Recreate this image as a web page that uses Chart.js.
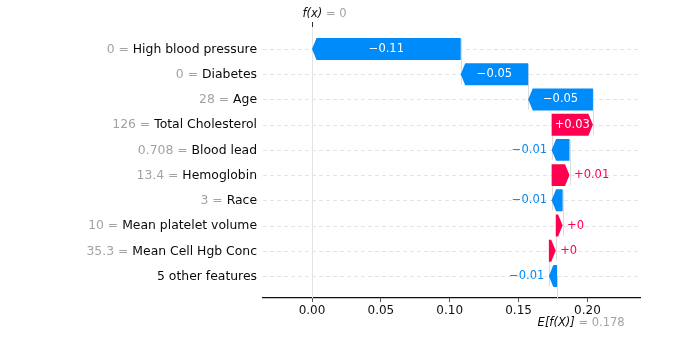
<!DOCTYPE html>
<html>
<head>
<meta charset="utf-8">
<script src="https://cdn.jsdelivr.net/npm/chart.js@4.4.0/dist/chart.umd.min.js"></script>
<style>
    html, body { margin: 0; padding: 0; background: #fff; }
    #wrap { width: 684px; height: 343px; }
</style>
</head>
<body>
<div id="wrap"><canvas id="grafico" width="684" height="343"></canvas></div>
<script>
// ======================================
// DADOS
// ======================================
const features = ['High blood pressure', 'Diabetes', 'Age', 'Total Cholesterol', 'Blood lead',
    'Hemoglobin', 'Race', 'Mean platelet volume', 'Mean Cell Hgb Conc', '5 other features'];
const featureValues = ['0', '0', '28', '126', '0.708', '13.4', '3', '10', '35.3', ''];
const shapValues = [-0.108, -0.049, -0.047, 0.030, -0.013, 0.013, -0.008, 0.005, 0.005, -0.006];
const barLabels = ['\u22120.11', '\u22120.05', '\u22120.05', '+0.03', '\u22120.01',
    '+0.01', '\u22120.01', '+0', '+0', '\u22120.01'];
const baseValue = 0.178;
const fxValue = 0;
const xTicks = [0, 0.05, 0.10, 0.15, 0.20];

const BLUE = '#008bfb';
const RED = '#ff0051';
const FONT = '"DejaVu Sans", sans-serif';

// acumulado de baixo para cima (estilo waterfall)
const n = features.length;
const starts = new Array(n);
const ends = new Array(n);
let acc = baseValue;
for (let i = n - 1; i >= 0; i--) {
    starts[i] = acc;
    acc += shapValues[i];
    ends[i] = acc;
}
const barData = features.map((f, i) => ({ x: [starts[i], ends[i]], y: i }));

// ======================================
// PLUGIN: setas, linhas e textos
// ======================================
const waterfallPlugin = {
    id: 'waterfall',
    beforeDatasetsDraw(chart) {
        const { ctx, chartArea, scales } = chart;
        const xs = scales.x, ys = scales.y;
        const rowH = Math.abs(ys.getPixelForValue(1) - ys.getPixelForValue(0));
        ctx.save();

        // linhas horizontais tracejadas
        ctx.strokeStyle = '#e4e4e4';
        ctx.lineWidth = 1;
        ctx.setLineDash([4, 3]);
        for (let i = 0; i < n; i++) {
            const y = Math.round(ys.getPixelForValue(i)) + 0.5;
            ctx.beginPath();
            ctx.moveTo(chartArea.left, y);
            ctx.lineTo(chartArea.right, y);
            ctx.stroke();
        }

        // linhas verticais (f(x), base e conectores)
        ctx.setLineDash([]);
        ctx.strokeStyle = '#e4e4e4';
        const xf = Math.round(xs.getPixelForValue(fxValue)) + 0.5;
        ctx.beginPath();
        ctx.moveTo(xf, chartArea.top);
        ctx.lineTo(xf, chartArea.bottom);
        ctx.stroke();

        ctx.strokeStyle = '#dcdcdc';
        const xb = Math.round(xs.getPixelForValue(baseValue)) + 0.5;
        ctx.beginPath();
        ctx.moveTo(xb, ys.getPixelForValue(n - 1));
        ctx.lineTo(xb, chartArea.bottom);
        ctx.stroke();

        for (let i = 0; i < n - 1; i++) {
            const x = Math.round(xs.getPixelForValue(starts[i])) + 0.5;
            ctx.beginPath();
            ctx.moveTo(x, ys.getPixelForValue(i) - 0.4 * rowH);
            ctx.lineTo(x, ys.getPixelForValue(i + 1) + 0.4 * rowH);
            ctx.stroke();
        }

        // tick do f(x) no topo
        ctx.strokeStyle = '#333';
        ctx.beginPath();
        ctx.moveTo(xf, chartArea.top - 5);
        ctx.lineTo(xf, chartArea.top);
        ctx.stroke();
        ctx.restore();
    },
    afterDatasetsDraw(chart) {
        const { ctx, chartArea, scales } = chart;
        const xs = scales.x;
        const meta = chart.getDatasetMeta(0);
        ctx.save();

        meta.data.forEach((bar, i) => {
            const p = bar.getProps(['x', 'y', 'base', 'height'], true);
            const left = Math.min(p.x, p.base);
            const right = Math.max(p.x, p.base);
            const top = p.y - p.height / 2;
            const bottom = p.y + p.height / 2;
            const hl = Math.min(4.5, right - left);
            const pos = shapValues[i] >= 0;
            const cor = pos ? RED : BLUE;

            ctx.fillStyle = cor;
            ctx.beginPath();
            if (pos) {
                ctx.moveTo(left, top);
                ctx.lineTo(right - hl, top);
                ctx.lineTo(right, p.y);
                ctx.lineTo(right - hl, bottom);
                ctx.lineTo(left, bottom);
            } else {
                ctx.moveTo(right, top);
                ctx.lineTo(left + hl, top);
                ctx.lineTo(left, p.y);
                ctx.lineTo(left + hl, bottom);
                ctx.lineTo(right, bottom);
            }
            ctx.closePath();
            ctx.fill();

            // rótulo do valor
            ctx.font = '11.5px ' + FONT;
            ctx.textBaseline = 'middle';
            const tw = ctx.measureText(barLabels[i]).width;
            if (tw + 6 < right - left) {
                ctx.fillStyle = '#fff';
                ctx.textAlign = 'center';
                ctx.fillText(barLabels[i], (left + right) / 2, p.y);
            } else if (pos) {
                ctx.fillStyle = cor;
                ctx.textAlign = 'left';
                ctx.fillText(barLabels[i], right + 4.5, p.y);
            } else {
                ctx.fillStyle = cor;
                ctx.textAlign = 'right';
                ctx.fillText(barLabels[i], left - 4.5, p.y);
            }

            // rótulo do eixo y: "valor = nome"
            ctx.font = '12.4px ' + FONT;
            ctx.textAlign = 'right';
            ctx.fillStyle = '#0a0a0a';
            const lx = chartArea.left - 6;
            ctx.fillText(features[i], lx, p.y + 0.5);
            if (featureValues[i] !== '') {
                const nw = ctx.measureText(features[i]).width;
                ctx.fillStyle = '#a3a3a3';
                ctx.fillText(featureValues[i] + ' = ', lx - nw, p.y + 0.5);
            }
        });

        // textos f(x) e E[f(X)]
        ctx.textAlign = 'left';
        ctx.textBaseline = 'middle';
        let x0 = xs.getPixelForValue(fxValue) - 9.5;
        ctx.font = 'italic 11.5px ' + FONT;
        ctx.fillStyle = '#0a0a0a';
        ctx.fillText('f(x)', x0, 14);
        x0 += ctx.measureText('f(x)').width;
        ctx.font = '11.5px ' + FONT;
        ctx.fillStyle = '#a3a3a3';
        ctx.fillText(' = ' + fxValue, x0, 14);

        x0 = xs.getPixelForValue(baseValue) - 19.5;
        ctx.font = 'italic 11.5px ' + FONT;
        ctx.fillStyle = '#0a0a0a';
        ctx.fillText('E[f(X)]', x0, 323);
        x0 += ctx.measureText('E[f(X)]').width;
        ctx.font = '11.5px ' + FONT;
        ctx.fillStyle = '#a3a3a3';
        ctx.fillText(' = ' + baseValue.toFixed(3), x0, 323);
        ctx.restore();
    }
};

// ======================================
// GRÁFICO
// ======================================
const ctx = document.getElementById('grafico');
new Chart(ctx, {
    type: 'bar',
    data: {
        datasets: [{
            data: barData,
            backgroundColor: 'rgba(0,0,0,0)',
            borderWidth: 0,
            barPercentage: 0.87,
            categoryPercentage: 1
        }]
    },
    options: {
        indexAxis: 'y',
        responsive: false,
        animation: false,
        devicePixelRatio: 1,
        layout: { padding: { left: 0, right: 44, top: 27, bottom: 0 } },
        plugins: {
            legend: { display: false },
            tooltip: { enabled: false }
        },
        scales: {
            x: {
                type: 'linear',
                position: 'bottom',
                min: -0.0356,
                max: 0.2382,
                afterBuildTicks: (scale) => {
                    scale.ticks = xTicks.map(v => ({ value: v }));
                },
                afterFit: (scale) => { scale.height = 45; },
                ticks: {
                    color: '#111',
                    padding: 2,
                    font: { family: 'DejaVu Sans', size: 12 },
                    callback: (v) => Number(v).toFixed(2)
                },
                grid: {
                    drawOnChartArea: false,
                    drawTicks: true,
                    tickLength: 4,
                    color: '#555'
                },
                border: { display: true, color: '#111', width: 1.3 }
            },
            y: {
                type: 'linear',
                reverse: true,
                offset: false,
                min: -0.872,
                max: 9.872,
                afterBuildTicks: (scale) => {
                    scale.ticks = features.map((f, i) => ({ value: i }));
                },
                afterFit: (scale) => { scale.width = 263; },
                ticks: { display: false },
                grid: { display: false, offset: false },
                border: { display: false }
            }
        }
    },
    plugins: [waterfallPlugin]
});
</script>
</body>
</html>
